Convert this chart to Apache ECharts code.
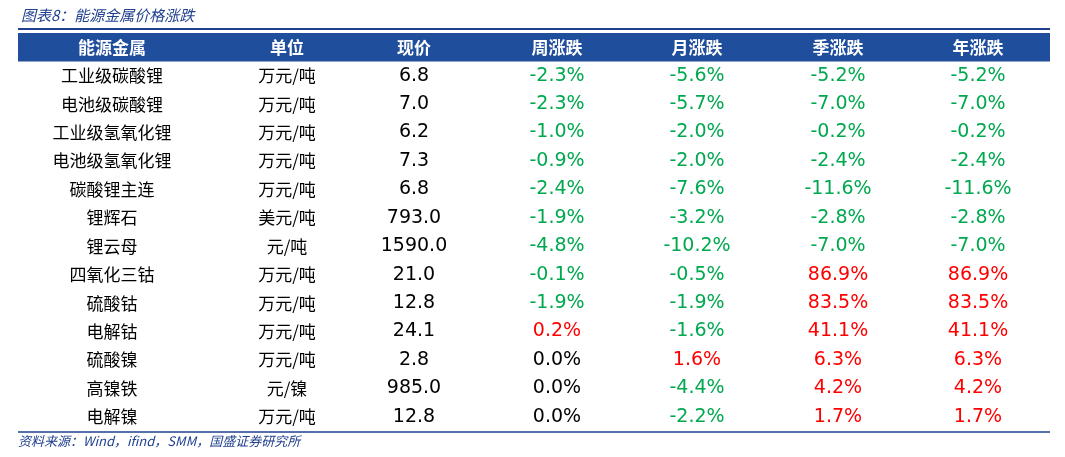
<!DOCTYPE html><html><head><meta charset="utf-8">
<script src="https://cdn.jsdelivr.net/npm/echarts@6/dist/echarts.min.js"></script>
<style>html,body{margin:0;padding:0;background:#fff}#c{width:1065px;height:457px}</style></head><body><div id="c"></div>
<script>
const headers=['能源金属','单位','现价','周涨跌','月涨跌','季涨跌','年涨跌'];
const names=['工业级碳酸锂','电池级碳酸锂','工业级氢氧化锂','电池级氢氧化锂','碳酸锂主连','锂辉石','锂云母','四氧化三钴','硫酸钴','电解钴','硫酸镍','高镍铁','电解镍'];
const units=['万元/吨','万元/吨','万元/吨','万元/吨','万元/吨','美元/吨','元/吨','万元/吨','万元/吨','万元/吨','万元/吨','元/镍','万元/吨'];
const prices=[6.8,7.0,6.2,7.3,6.8,793.0,1590.0,21.0,12.8,24.1,2.8,985.0,12.8];
const week=[-2.3,-2.3,-1.0,-0.9,-2.4,-1.9,-4.8,-0.1,-1.9,0.2,0.0,0.0,0.0];
const month=[-5.6,-5.7,-2.0,-2.0,-7.6,-3.2,-10.2,-0.5,-1.9,-1.6,1.6,-4.4,-2.2];
const season=[-5.2,-7.0,-0.2,-2.4,-11.6,-2.8,-7.0,86.9,83.5,41.1,6.3,4.2,1.7];
const year=[-5.2,-7.0,-0.2,-2.4,-11.6,-2.8,-7.0,86.9,83.5,41.1,6.3,4.2,1.7];
const colX=[94,269,396,539,679,820,960];
const rows=['h'].concat(names.map((_,i)=>String(i)));
const chart=echarts.init(document.getElementById('c'));
function pc(v){return{text:v.toFixed(1)+'%',fill:v<0?'#00a84f':(v>0?'#ff0000':'#000')};}
chart.setOption({
 animation:false,
 title:{text:'图表8：能源金属价格涨跌',left:16,top:3,textStyle:{fontSize:15,fontStyle:'italic',fontWeight:'normal',color:'#1f3f8f',fontFamily:'Noto Sans CJK SC'}},
 graphic:[
  {type:'line',shape:{x1:18,y1:29,x2:1050,y2:29},style:{stroke:'#1f3f8f',lineWidth:2}},
  {type:'line',shape:{x1:18,y1:432,x2:1050,y2:432},style:{stroke:'#1f3f8f',lineWidth:1.5}},
  {type:'text',left:18,top:435,style:{text:'资料来源：Wind，ifind，SMM，国盛证券研究所',fontSize:13,fontStyle:'italic',fill:'#1f3f8f',fontFamily:'Noto Sans CJK SC'}}
 ],
 grid:{left:18,right:15,top:33,bottom:26},
 xAxis:{type:'value',min:0,max:1032,show:false},
 yAxis:{type:'category',data:rows,inverse:true,show:false},
 series:[{type:'custom',coordinateSystem:'cartesian2d',data:rows.map((r,i)=>[0,i]),
  renderItem:function(params,api){
   const i=api.value(1);const c=api.coord([0,i]);const h=api.size([0,1])[1];
   const ch=[];
   const font='17px "Noto Sans CJK SC", sans-serif';
   const nfont='19px "DejaVu Sans", sans-serif';
   if(i===0){
     const e=api.coord([1032,i]);
     ch.push({type:'rect',shape:{x:c[0],y:c[1]-h/2,width:e[0]-c[0],height:h},style:{fill:'#1f4e9c'}});
     headers.forEach((t,k)=>ch.push({type:'text',style:{text:t,x:api.coord([colX[k],i])[0],y:c[1],align:'center',verticalAlign:'middle',fill:'#fff',font:'bold 17px "Noto Sans CJK SC", sans-serif'}}));
   } else {
     const j=i-1;
     const cells=[{text:names[j],fill:'#000'},{text:units[j],fill:'#000'},{text:prices[j].toFixed(1),fill:'#000'},pc(week[j]),pc(month[j]),pc(season[j]),pc(year[j])];
     cells.forEach((s,k)=>ch.push({type:'text',style:{text:s.text,x:api.coord([colX[k],i])[0],y:c[1],align:'center',verticalAlign:'middle',fill:s.fill,font:k>=2?nfont:font}}));
   }
   return {type:'group',children:ch};
  }}]
});
</script></body></html>
